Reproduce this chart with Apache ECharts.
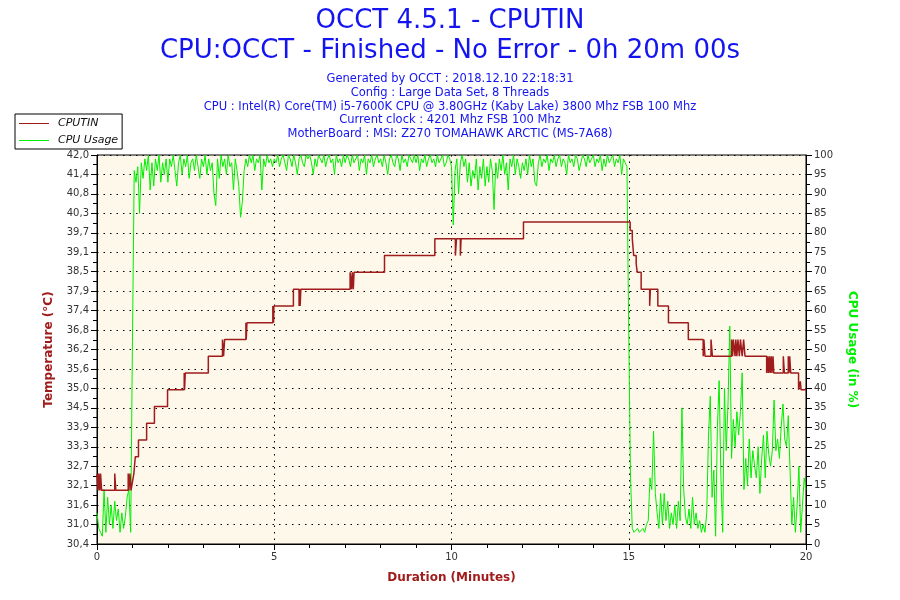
<!DOCTYPE html>
<html>
<head>
<meta charset="utf-8">
<title>OCCT 4.5.1 - CPUTIN</title>
<script src="https://cdn.jsdelivr.net/npm/echarts@6/dist/echarts.min.js"></script>
<style>
html,body{margin:0;padding:0;background:#fff;}
#main{width:900px;height:600px;}
</style>
</head>
<body>
<div id="main"></div>
<script>
//chart container
var chart = echarts.init(document.getElementById('main'));

//header text
var titleLines = ['OCCT 4.5.1 - CPUTIN', 'CPU:OCCT - Finished - No Error - 0h 20m 00s'];
var infoLines = [
    'Generated by OCCT : 2018.12.10 22:18:31',
    'Config : Large Data Set, 8 Threads',
    'CPU : Intel(R) Core(TM) i5-7600K CPU @ 3.80GHz (Kaby Lake) 3800 Mhz FSB 100 Mhz',
    'Current clock : 4201 Mhz FSB 100 Mhz',
    'MotherBoard : MSI: Z270 TOMAHAWK ARCTIC (MS-7A68)'
];
var seriesNames = ['CPUTIN', 'CPU Usage'];

//axis ranges: [min, max, interval]
var durationAxis = [0, 20, 5];
var tempAxis = [30.4, 42.0, 0.58];
var usageAxis = [0, 100, 5];

//CPUTIN temperature (minutes, °C), value holds until next time
var tempTimes = [0, 0.03, 0.05, 0.08, 0.1, 0.13, 0.5, 0.53, 0.88, 0.9, 0.93, 0.96,
    1.0, 1.04, 1.08, 1.17, 1.4, 1.62, 1.99, 2.46, 2.47, 2.49, 3.14, 3.54, 3.57, 3.6,
    4.2, 4.21, 4.23, 4.96, 4.98, 4.99, 5.54, 5.7, 5.71, 5.73, 5.75, 7.14, 7.18, 7.2,
    7.23, 7.25, 8.11, 9.53, 10.11, 10.14, 10.25, 10.27, 12.03, 15.04, 15.1, 15.14,
    15.21, 15.24, 15.35, 15.59, 15.61, 15.82, 16.12, 16.68, 17.1, 17.12, 17.15, 17.32,
    17.36, 17.9, 17.93, 17.95, 18.0, 18.02, 18.05, 18.08, 18.12, 18.15, 18.2, 18.24,
    18.28, 18.89, 18.92, 18.94, 18.97, 18.99, 19.02, 19.04, 19.07, 19.09, 19.36, 19.39,
    19.5, 19.52, 19.54, 19.57, 19.79, 19.84, 19.86, 20.0];
var tempValues = [32.5, 32.0, 32.5, 32.0, 32.5, 32.0, 32.5, 32.0, 32.5, 32.0, 32.5, 32.0,
    32.25, 32.5, 33.0, 33.5, 34.0, 34.5, 35.0, 35.5, 35.0, 35.5, 36.0, 36.5, 36.0, 36.5,
    37.0, 36.5, 37.0, 37.5, 37.0, 37.5, 38.0, 37.5, 38.0, 37.5, 38.0, 38.5, 38.0, 38.5,
    38.0, 38.5, 39.0, 39.5, 39.0, 39.5, 39.0, 39.5, 40.0, 39.75, 39.5, 39.0,
    38.75, 38.5, 38.0, 37.5, 38.0, 37.5, 37.0, 36.5, 36.0, 36.5, 36.0, 36.5,
    36.0, 36.5, 36.0, 36.5, 36.0, 36.5, 36.0, 36.5, 36.0, 36.5, 36.0, 36.5,
    36.0, 35.5, 36.0, 35.5, 36.0, 35.5, 36.0, 35.5, 36.0, 35.5, 36.0, 35.5,
    36.0, 35.5, 36.0, 35.5, 35.0, 35.25, 35.0, 35.0];

//CPU usage (%), one sample every 0.05 minute, one row per minute
var usageStep = 0.05;
var usageValues = [
    8, 4, 3, 2, 14, 3, 12, 5, 10, 4, 11, 6, 9, 3, 8, 4, 7, 12, 14, 3,
    52, 96, 93, 97, 85, 98, 94, 99, 96, 100, 91, 98, 92, 99, 96, 100, 93, 98, 95, 99,
    93, 99, 97, 100, 96, 92, 98, 100, 95, 99, 97, 100, 94, 98, 99, 96, 100, 97, 94, 99,
    97, 100, 95, 99, 96, 98, 90, 87, 99, 94, 100, 97, 99, 95, 100, 97, 98, 91, 99, 96,
    92, 84, 88, 96, 99, 97, 100, 98, 100, 96, 99, 98, 100, 91, 99, 97, 100, 98, 99, 97,
    99, 98, 100, 97, 99, 100, 98, 96, 100, 99, 97, 100, 98, 95, 99, 100, 98, 97, 100, 99,
    100, 98, 95, 99, 97, 100, 99, 98, 100, 97, 99, 100, 98, 99, 95, 100, 98, 99, 97, 100,
    98, 100, 99, 97, 100, 98, 99, 100, 96, 99, 98, 100, 95, 99, 98, 100, 97, 99, 100, 98,
    99, 97, 100, 98, 95, 99, 100, 98, 97, 100, 99, 96, 100, 98, 99, 97, 100, 99, 98, 100,
    98, 100, 96, 99, 98, 100, 97, 99, 100, 98, 99, 97, 100, 98, 99, 100, 97, 98, 100, 99,
    97, 82, 96, 99, 90, 98, 100, 97, 99, 93, 98, 92, 96, 94, 99, 91, 97, 94, 99, 92,
    97, 93, 99, 96, 86, 98, 94, 99, 96, 100, 95, 98, 91, 99, 97, 100, 95, 99, 97, 94,
    98, 96, 99, 95, 100, 97, 99, 93, 92, 98, 100, 97, 99, 98, 100, 96, 99, 98, 100, 97,
    99, 100, 97, 99, 98, 95, 100, 98, 99, 97, 100, 99, 96, 98, 100, 99, 97, 100, 98, 99,
    100, 97, 99, 98, 100, 96, 99, 97, 100, 98, 99, 100, 97, 99, 98, 100, 95, 99, 98, 97,
    54, 17, 4, 3, 3, 4, 3, 3, 4, 3, 5, 6, 17, 14, 29, 13, 8, 4, 13, 5,
    13, 6, 11, 4, 8, 5, 10, 4, 11, 6, 35, 14, 7, 5, 9, 4, 12, 5, 8, 4,
    6, 3, 5, 3, 8, 28, 38, 12, 19, 2, 30, 42, 17, 3, 40, 24, 36, 56, 22, 32,
    25, 34, 28, 34, 44, 14, 22, 15, 27, 17, 24, 20, 17, 25, 13, 22, 28, 17, 29, 23,
    20, 24, 37, 24, 27, 22, 30, 36, 27, 25, 33, 19, 5, 12, 3, 10, 20, 3, 10, 17,
    14
];

var tempData = [];
for (var i = 0; i < tempTimes.length; i++) {
    tempData.push([tempTimes[i], tempValues[i]]);
}
var usageData = [];
for (var j = 0; j < usageValues.length; j++) {
    usageData.push([+(j * usageStep).toFixed(2), usageValues[j]]);
}

var titleColor = '#1414f0';
var tempColor = '#a01c1c';
var usageColor = '#00ee00';
var dotted = {color: '#000', width: 1, type: [1.5, 5]};

var titles = [];
for (var k = 0; k < titleLines.length; k++) {
    titles.push({
        text: titleLines[k],
        left: 'center',
        top: 3 + k * 30,
        textStyle: {color: titleColor, fontSize: 26, fontWeight: 'normal', fontFamily: 'DejaVu Sans'}
    });
}
for (var m = 0; m < infoLines.length; m++) {
    titles.push({
        text: infoLines[m],
        left: 'center',
        top: 68 + m * 13.8,
        textStyle: {color: titleColor, fontSize: 11.5, fontWeight: 'normal', fontFamily: 'DejaVu Sans'}
    });
}

var option = {
    backgroundColor: '#fff',
    animation: false,
    title: titles,
    legend: {
        data: seriesNames,
        orient: 'vertical',
        left: 15,
        top: 114,
        backgroundColor: '#fff',
        borderColor: '#000',
        borderWidth: 1,
        borderRadius: 0,
        padding: [4, 4, 3, 4],
        itemGap: 6,
        itemWidth: 30,
        itemHeight: 1,
        icon: 'rect',
        textStyle: {fontStyle: 'italic', fontSize: 11, color: '#111', fontFamily: 'DejaVu Sans', padding: [0, 0, 0, 4]}
    },
    grid: {
        left: 97,
        right: 94,
        top: 155,
        bottom: 56,
        show: true,
        backgroundColor: '#fdf8ea',
        borderColor: '#000',
        borderWidth: 1
    },
    xAxis: {
        type: 'value',
        min: durationAxis[0],
        max: durationAxis[1],
        interval: durationAxis[2],
        name: 'Duration (Minutes)',
        nameLocation: 'middle',
        nameGap: 28,
        nameTextStyle: {color: tempColor, fontWeight: 'bold', fontSize: 12, fontFamily: 'DejaVu Sans'},
        axisLine: {lineStyle: {color: '#000'}},
        axisTick: {length: 6, lineStyle: {color: '#000'}},
        minorTick: {show: true, splitNumber: 5, length: 4, lineStyle: {color: '#000'}},
        axisLabel: {color: '#333', fontSize: 10, margin: 8, fontFamily: 'DejaVu Sans'},
        splitLine: {show: true, lineStyle: dotted}
    },
    yAxis: [
        {
            type: 'value',
            min: tempAxis[0],
            max: tempAxis[1],
            interval: tempAxis[2],
            name: 'Temperature (°C)',
            nameLocation: 'middle',
            nameGap: 42,
            nameRotate: 90,
            nameTextStyle: {color: tempColor, fontWeight: 'bold', fontSize: 12, fontFamily: 'DejaVu Sans'},
            axisLine: {show: true, lineStyle: {color: '#000'}},
            axisTick: {show: true, length: 6, lineStyle: {color: '#000'}},
            minorTick: {show: true, splitNumber: 2, length: 4, lineStyle: {color: '#000'}},
            axisLabel: {
                color: '#333', fontSize: 10, margin: 8, fontFamily: 'DejaVu Sans',
                formatter: function (v) { return v.toFixed(1).replace('.', ','); }
            },
            splitLine: {show: true, lineStyle: dotted}
        },
        {
            type: 'value',
            min: usageAxis[0],
            max: usageAxis[1],
            interval: usageAxis[2],
            position: 'right',
            name: 'CPU Usage (in %)',
            nameLocation: 'middle',
            nameGap: 40,
            nameRotate: -90,
            nameTextStyle: {color: usageColor, fontWeight: 'bold', fontSize: 12, fontFamily: 'DejaVu Sans'},
            axisLine: {show: true, lineStyle: {color: '#000'}},
            axisTick: {show: true, length: 6, lineStyle: {color: '#000'}},
            minorTick: {show: true, splitNumber: 2, length: 4, lineStyle: {color: '#000'}},
            axisLabel: {color: '#333', fontSize: 10, margin: 8, fontFamily: 'DejaVu Sans'},
            splitLine: {show: false}
        }
    ],
    series: [
        {
            name: seriesNames[1],
            type: 'line',
            yAxisIndex: 1,
            data: usageData,
            showSymbol: false,
            symbol: 'none',
            itemStyle: {color: usageColor},
            lineStyle: {color: usageColor, width: 1},
            z: 2
        },
        {
            name: seriesNames[0],
            type: 'line',
            yAxisIndex: 0,
            data: tempData,
            step: 'end',
            showSymbol: false,
            symbol: 'none',
            itemStyle: {color: tempColor},
            lineStyle: {color: tempColor, width: 1.5},
            z: 3
        }
    ]
};
chart.setOption(option);
</script>
</body>
</html>
